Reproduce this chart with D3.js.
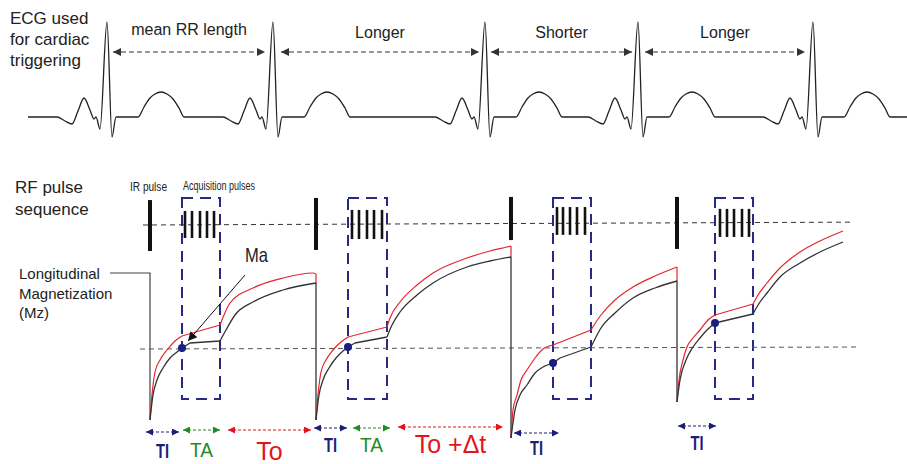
<!DOCTYPE html>
<html>
<head>
<meta charset="utf-8">
<script src="https://cdn.jsdelivr.net/npm/d3@7"></script>
<style>
  body { margin: 0; background: #fff; }
  text { font-family: "Liberation Sans", Arial, sans-serif; fill: #222; }
  .narrow { font-family: "Liberation Sans Narrow", "Arial Narrow", "Liberation Sans", sans-serif; }
</style>
</head>
<body>
<svg id="chart"></svg>
<script>
// ---- data ----
// ECG: R-peak times and one beat template (offset from R, amplitude)
const ecgBeats = [107, 273, 485, 638, 813];
const beatDt = [-50, -42, -35, -29, -23, -17, -13, -11, -7, 0, 5, 9, 31, 37, 43, 48, 54, 60, 66, 72, 77];
const beatAmp = [0, -4, -7, 6, 19, 7, -2, 0, -12, 95, -20, 0, 0, 10, 19, 23, 25, 23, 18, 9, 0];
const rrSpans = [[113, 265], [281, 479], [491, 632], [645, 805]];
const rrLabels = ["mean RR length", "Longer", "Shorter", "Longer"];

// RF pulses
const irTimes = [150, 316, 511, 677];
const irLow = [-1, -0.96, -0.58, -0.92];
const irHigh = [0.96, 1.04, 1.08, 1.08];
const acqWindows = [[182, 220], [348, 387], [553, 591], [715, 753]];
const acqPulses = [
  [185, 192, 200, 207, 214],
  [352, 359, 367, 374, 382],
  [557, 563, 570, 577, 585],
  [720, 727, 734, 742, 749]
];
const acqLow = [-0.5, -0.54, -0.38, -0.46];
const acqHigh = [0.54, 0.58, 0.69, 0.62];

// longitudinal magnetization, one array per cycle: [time, Mz]
const mzBlack = [
  [[150, -0.72], [153, -0.47], [157, -0.32], [163, -0.2], [170, -0.1], [177, -0.04], [182, 0], [190, 0.05], [220, 0.07],
   [226, 0.18], [235, 0.33], [253, 0.46], [283, 0.58], [316, 0.65]],
  [[316, -0.72], [319, -0.47], [323, -0.32], [329, -0.2], [336, -0.1], [343, -0.03], [348, 0.01], [355, 0.05], [387, 0.11],
   [392, 0.23], [400, 0.36], [417, 0.53], [433, 0.65], [467, 0.81], [490, 0.87], [511, 0.91]],
  [[511, -0.9], [515, -0.62], [520, -0.47], [527, -0.37], [535, -0.25], [543, -0.19], [553, -0.15], [560, -0.1], [591, 0.01],
   [596, 0.11], [601, 0.2], [615, 0.35], [633, 0.5], [655, 0.6], [677, 0.67]],
  [[677, -0.54], [680, -0.32], [686, -0.12], [693, 0.01], [700, 0.1], [707, 0.18], [715, 0.25], [753, 0.34],
   [760, 0.46], [767, 0.55], [780, 0.71], [800, 0.85], [820, 0.96], [843, 1.06]]
];
const mzRed = [
  [[150, -0.72], [152, -0.47], [155, -0.24], [160, -0.12], [167, -0.02], [175, 0.07], [182, 0.12], [220, 0.23],
   [224, 0.33], [230, 0.45], [253, 0.6], [283, 0.7], [313, 0.75], [316, 0.74]],
  [[316, -0.72], [318, -0.47], [321, -0.24], [326, -0.12], [333, -0.02], [341, 0.06], [348, 0.11], [387, 0.21],
   [390, 0.3], [400, 0.46], [417, 0.63], [433, 0.75], [467, 0.9], [490, 0.97], [507, 1.01], [511, 1.02]],
  [[511, -0.9], [513, -0.62], [517, -0.47], [521, -0.32], [527, -0.22], [535, -0.1], [543, -0.01], [553, 0.03], [591, 0.18],
   [596, 0.26], [601, 0.33], [615, 0.48], [633, 0.61], [655, 0.72], [677, 0.81]],
  [[677, -0.54], [679, -0.32], [683, -0.12], [687, 0.01], [693, 0.1], [700, 0.18], [708, 0.28], [715, 0.33], [753, 0.44],
   [758, 0.53], [767, 0.65], [780, 0.8], [800, 0.96], [820, 1.07], [843, 1.17]]
];
const mzDots = [[182, 0], [348, 0.01], [553, -0.15], [715, 0.25]];

// timing intervals under the curves
const intervalSpans = [[145, 180], [182, 221], [227, 312], [313, 348], [352, 391], [397, 504], [513, 560], [677, 717]];
const intervalLabels = ["TI", "TA", "To", "TI", "TA", "To +Δt", "TI", "TI"];
const intervalKinds = ["TI", "TA", "To", "TI", "TA", "To", "TI", "TI"];

// ---- layout ----
const width = 907, height = 464;
const arrowY = [432, 430, 430, 428, 428, 427, 433, 426];
const labelY = [458, 457, 460, 452, 452, 453, 455, 450];

const svg = d3.select("#chart").attr("width", width).attr("height", height);

const x = d3.scaleLinear().domain([0, 907]).range([0, 907]);
const yEcg = d3.scaleLinear().domain([-20, 95]).range([137, 22]);
const yRf = d3.scaleLinear().domain([-1, 1]).range([251, 199]);
const yMz = d3.scaleLinear().domain([-1, 1]).range([448, 248]);

const kindColor = d3.scaleOrdinal().domain(["TI", "TA", "To"]).range(["#1b1f7a", "#1f8c22", "#e3141c"]);
const navy = "#262a85";

// arrow heads
const defs = svg.append("defs");
function marker(id, color, w, h) {
  defs.append("marker")
    .attr("id", id)
    .attr("viewBox", "0 0 10 10")
    .attr("refX", 10).attr("refY", 5)
    .attr("markerUnits", "userSpaceOnUse")
    .attr("markerWidth", w).attr("markerHeight", h)
    .attr("orient", "auto-start-reverse")
    .append("path").attr("d", "M0,0L10,5L0,10z").attr("fill", color);
}
marker("ah-gray", "#333", 10, 8);
marker("ah-black", "#111", 11, 9);
marker("ah-TI", kindColor("TI"), 9, 7);
marker("ah-TA", kindColor("TA"), 9, 7);
marker("ah-To", kindColor("To"), 9, 7);

// ---- ECG ----
let ecgPts = [[28, 0]];
ecgBeats.forEach(function (r) {
  beatDt.forEach(function (d, i) { ecgPts.push([r + d, beatAmp[i]]); });
});
ecgPts.push([907, 0]);

const ecgLine = d3.line().x(d => x(d[0])).y(d => yEcg(d[1])).curve(d3.curveMonotoneX);
svg.append("path").attr("d", ecgLine(ecgPts))
  .attr("fill", "none").attr("stroke", "#222").attr("stroke-width", 1.3);

svg.selectAll(".rr").data(rrSpans).enter().append("line")
  .attr("x1", d => x(d[0])).attr("x2", d => x(d[1]))
  .attr("y1", 52).attr("y2", 52)
  .attr("stroke", "#333").attr("stroke-width", 1.1).attr("stroke-dasharray", "5,3")
  .attr("marker-start", "url(#ah-gray)").attr("marker-end", "url(#ah-gray)");

svg.selectAll(".rrlab").data(rrLabels).enter().append("text")
  .attr("x", (d, i) => x((rrSpans[i][0] + rrSpans[i][1]) / 2))
  .attr("y", (d, i) => i === 0 ? 35 : 38)
  .attr("text-anchor", "middle").attr("font-size", 16)
  .text(d => d);

const ecgTitle = svg.append("text").attr("x", 10).attr("font-size", 17);
["ECG used", "for cardiac", "triggering"].forEach(function (t, i) {
  ecgTitle.append("tspan").attr("x", 10).attr("y", 24 + i * 21).text(t);
});

// ---- RF pulse sequence ----
const rfTitle = svg.append("text").attr("font-size", 17);
["RF pulse", "sequence"].forEach(function (t, i) {
  rfTitle.append("tspan").attr("x", 15).attr("y", 193 + i * 22).text(t);
});
svg.append("text").attr("class", "narrow").attr("x", 130).attr("y", 191)
  .attr("font-size", 12).attr("textLength", 37).attr("lengthAdjust", "spacingAndGlyphs").text("IR pulse");
svg.append("text").attr("class", "narrow").attr("x", 183).attr("y", 190)
  .attr("font-size", 12).attr("textLength", 72).attr("lengthAdjust", "spacingAndGlyphs").text("Acquisition pulses");

svg.append("line")
  .attr("x1", x(143)).attr("x2", x(853))
  .attr("y1", yRf(0)).attr("y2", yRf(0.11))
  .attr("stroke", "#333").attr("stroke-width", 1).attr("stroke-dasharray", "5,4");

svg.selectAll(".ir").data(irTimes).enter().append("line")
  .attr("x1", d => x(d)).attr("x2", d => x(d))
  .attr("y1", (d, i) => yRf(irLow[i])).attr("y2", (d, i) => yRf(irHigh[i]))
  .attr("stroke", "#111").attr("stroke-width", 4);

acqPulses.forEach(function (ts, w) {
  svg.selectAll(".acq" + w).data(ts).enter().append("line")
    .attr("x1", d => x(d)).attr("x2", d => x(d))
    .attr("y1", yRf(acqLow[w])).attr("y2", yRf(acqHigh[w]))
    .attr("stroke", "#111").attr("stroke-width", 2.6);
});

svg.selectAll(".box").data(acqWindows).enter().append("rect")
  .attr("x", d => x(d[0])).attr("width", d => x(d[1]) - x(d[0]))
  .attr("y", 198).attr("height", 201)
  .attr("fill", "none").attr("stroke", navy).attr("stroke-width", 2)
  .attr("stroke-dasharray", "11,7");

// ---- longitudinal magnetization ----
const mzTitle = svg.append("text").attr("font-size", 15);
["Longitudinal", "Magnetization", "(Mz)"].forEach(function (t, i) {
  mzTitle.append("tspan").attr("x", 19).attr("y", 279 + i * 19.5).text(t);
});

svg.append("line")
  .attr("x1", x(140)).attr("x2", x(860))
  .attr("y1", yMz(-0.01)).attr("y2", yMz(0.01))
  .attr("stroke", "#555").attr("stroke-width", 1).attr("stroke-dasharray", "5,4");

const mzLine = d3.line().x(d => x(d[0])).y(d => yMz(d[1])).curve(d3.curveMonotoneX);
const straight = d3.line().x(d => x(d[0])).y(d => yMz(d[1]));

// split a cycle into recovery-before, acquisition (straight) and recovery-after
function cyclePath(cycle, win) {
  const i0 = cycle.findIndex(p => p[0] === win[0]);
  const i1 = cycle.findIndex(p => p[0] === win[1]);
  return mzLine(cycle.slice(0, i0 + 1)) + straight(cycle.slice(i0, i1 + 1)) + mzLine(cycle.slice(i1));
}

// leader from the label that turns into the first inversion
svg.append("path").attr("d", straight([[110, 0.75], [150, 0.75], [150, -0.72]]))
  .attr("fill", "none").attr("stroke", "#444").attr("stroke-width", 1.2);

// inversion drops between cycles
for (let i = 1; i < mzBlack.length; i++) {
  const prevB = mzBlack[i - 1][mzBlack[i - 1].length - 1];
  const prevR = mzRed[i - 1][mzRed[i - 1].length - 1];
  svg.append("path").attr("d", straight([prevB, [prevB[0], mzBlack[i][0][1]]]))
    .attr("fill", "none").attr("stroke", "#333").attr("stroke-width", 1.3);
  svg.append("path").attr("d", straight([prevR, [prevR[0], prevB[1]]]))
    .attr("fill", "none").attr("stroke", "#e3262c").attr("stroke-width", 1.2);
}

svg.selectAll(".mzr").data(mzRed).enter().append("path")
  .attr("d", (d, i) => cyclePath(d, acqWindows[i]))
  .attr("fill", "none").attr("stroke", "#e3262c").attr("stroke-width", 1.2)
  .attr("stroke-linejoin", "round");
svg.selectAll(".mzb").data(mzBlack).enter().append("path")
  .attr("d", (d, i) => cyclePath(d, acqWindows[i]))
  .attr("fill", "none").attr("stroke", "#333").attr("stroke-width", 1.3)
  .attr("stroke-linejoin", "round");

svg.selectAll(".dot").data(mzDots).enter().append("circle")
  .attr("cx", d => x(d[0])).attr("cy", d => yMz(d[1])).attr("r", 4)
  .attr("fill", "#1c1f80");

// Ma pointer
svg.append("line")
  .attr("x1", x(245)).attr("y1", yMz(0.73))
  .attr("x2", x(188)).attr("y2", yMz(0.07))
  .attr("stroke", "#111").attr("stroke-width", 1)
  .attr("marker-end", "url(#ah-black)");
svg.append("text").attr("class", "narrow").attr("x", 245).attr("y", 262)
  .attr("font-size", 21).attr("textLength", 23).attr("lengthAdjust", "spacingAndGlyphs").text("Ma");

// ---- timing intervals ----
svg.selectAll(".span").data(intervalSpans).enter().append("line")
  .attr("x1", d => x(d[0]) + 1).attr("x2", d => x(d[1]) - 1)
  .attr("y1", (d, i) => arrowY[i]).attr("y2", (d, i) => arrowY[i])
  .attr("stroke", (d, i) => kindColor(intervalKinds[i]))
  .attr("stroke-width", 1).attr("stroke-dasharray", "3,2")
  .attr("marker-start", (d, i) => "url(#ah-" + intervalKinds[i] + ")")
  .attr("marker-end", (d, i) => "url(#ah-" + intervalKinds[i] + ")");

const spanLab = svg.selectAll(".spanlab").data(intervalLabels).enter().append("text")
  .attr("class", (d, i) => intervalKinds[i] === "TI" ? "narrow" : null)
  .attr("x", (d, i) => x((intervalSpans[i][0] + intervalSpans[i][1]) / 2))
  .attr("y", (d, i) => labelY[i])
  .attr("text-anchor", "middle")
  .attr("font-size", (d, i) => intervalKinds[i] === "To" ? 25 : 20)
  .attr("font-weight", (d, i) => intervalKinds[i] === "TI" ? "bold" : null)
  .style("fill", (d, i) => kindColor(intervalKinds[i]))
  .text(d => d);
spanLab.filter((d, i) => intervalKinds[i] !== "To")
  .attr("textLength", (d, i) => d === "TI" ? 13 : 23)
  .attr("lengthAdjust", "spacingAndGlyphs");
</script>
</body>
</html>
